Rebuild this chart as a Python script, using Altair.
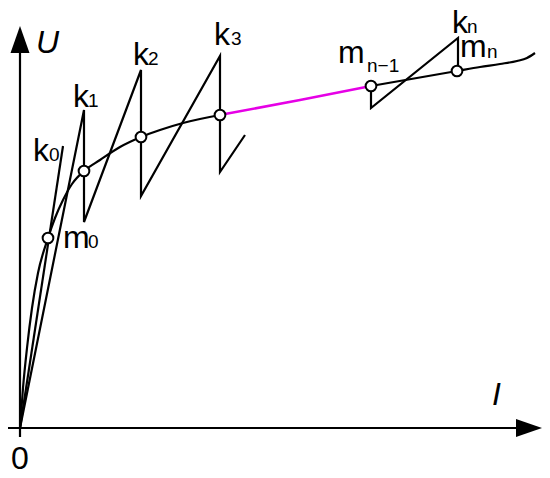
import altair as alt
import pandas as pd

# Coordinates in diagram units: I = horizontal (current), U = vertical (voltage)
# Main characteristic curve (black part up to m3)
curve1_I = [0, 3, 7, 12, 18, 28, 35, 43, 52, 64, 80, 100, 121, 140, 163, 200]
curve1_U = [0, 40, 80, 120, 155, 190, 210, 228, 244, 257, 268, 281, 291, 298, 305, 313]
# Highlighted (magenta) segment m3 -> m(n-1)
curve2_I = [200, 280, 351]
curve2_U = [313, 328, 342]
# Tail of the curve m(n-1) -> end
curve3_I = [351, 437, 460, 480, 497, 507, 515]
curve3_U = [342, 357, 361, 364, 367, 370, 375]

# k0 secant line
k0_I = [0, 43]
k0_U = [0, 282]
# Saw-tooth iteration path k1..k3
saw_I = [0, 64, 64, 121, 121, 200, 200, 225]
saw_U = [0, 318, 206, 358, 232, 372, 256, 293]
# Last iteration m(n-1) -> kn -> mn
last_I = [351, 351, 438, 438]
last_U = [342, 320, 390, 357]

# Operating points m0, m1, m2, m3, m(n-1), mn
pts_I = [28, 64, 121, 200, 351, 437]
pts_U = [190, 257, 291, 313, 342, 357]

# Axes
xaxis_I = [-17, 496]
xaxis_U = [0, 0]
yaxis_I = [0, 0]
yaxis_U = [-9, 375]

# Labels
main_text = ["k", "k", "k", "k", "k", "m", "m", "m", "0"]
main_I = [13, 53, 113, 194, 432, 43, 318, 440, -9]
main_U = [267, 321, 363, 383, 395, 180, 365, 371, -41]
sub_text = ["0", "1", "2", "3", "n", "0", "n\u22121", "n"]
sub_I = [29, 68, 128, 211, 447, 68, 347, 467]
sub_U = [267, 321, 363, 383, 395, 180, 356, 370]
ital_text = ["U", "I"]
ital_I = [16, 472]
ital_U = [375, 23]

xs = alt.Scale(domain=[-12, 522], nice=False, zero=False)
ys = alt.Scale(domain=[-42, 420], nice=False, zero=False)
X = lambda f="I": alt.X(f, type="quantitative", scale=xs, axis=None)
Y = lambda f="U": alt.Y(f, type="quantitative", scale=ys, axis=None)


def path_df(I, U, grp):
    return pd.DataFrame({"I": I, "U": U, "o": list(range(len(I))), "g": grp})


def line_layer(df, color="black", width=2.2, interp="linear"):
    return alt.Chart(df).mark_line(color=color, strokeWidth=width, interpolate=interp,
                                   strokeJoin="miter", strokeCap="butt").encode(
        x=X(), y=Y(), order="o:Q", detail="g:N")


axes_df = pd.concat([path_df(xaxis_I, xaxis_U, "x"), path_df(yaxis_I, yaxis_U, "y")])
lines_df = pd.concat([path_df(k0_I, k0_U, "k0"), path_df(saw_I, saw_U, "saw"),
                      path_df(last_I, last_U, "last")])

axes = line_layer(axes_df)
lines = line_layer(lines_df)
c1 = line_layer(path_df(curve1_I, curve1_U, "c1"), interp="monotone")
c2 = line_layer(path_df(curve2_I, curve2_U, "c2"), color="#e600e6", width=2.5,
                interp="monotone")
c3 = line_layer(path_df(curve3_I, curve3_U, "c3"), interp="monotone")

# arrowheads
yarrow = pd.DataFrame({"U": [375, 402], "a": [-9.5, 0], "b": [9.5, 0]})
xarrow = pd.DataFrame({"I": [496, 522], "a": [-9, 0], "b": [9, 0]})
ya = alt.Chart(yarrow).mark_area(orient="horizontal", color="black").encode(
    y=Y("U"), x=X("a"), x2="b")
xa = alt.Chart(xarrow).mark_area(orient="vertical", color="black").encode(
    x=X("I"), y=Y("a"), y2="b")

pts = alt.Chart(pd.DataFrame({"I": pts_I, "U": pts_U})).mark_point(
    shape="circle", filled=True, fill="white", stroke="black", strokeWidth=2,
    size=115, opacity=1).encode(x=X(), y=Y())

font = "Liberation Sans"
main = alt.Chart(pd.DataFrame({"I": main_I, "U": main_U, "t": main_text})).mark_text(
    align="left", baseline="alphabetic", font=font, fontSize=32, color="black").encode(
    x=X(), y=Y(), text="t:N")
sub = alt.Chart(pd.DataFrame({"I": sub_I, "U": sub_U, "t": sub_text})).mark_text(
    align="left", baseline="alphabetic", font=font, fontSize=19, color="black").encode(
    x=X(), y=Y(), text="t:N")
ital = alt.Chart(pd.DataFrame({"I": ital_I, "U": ital_U, "t": ital_text})).mark_text(
    align="left", baseline="alphabetic", font=font, fontSize=32, fontStyle="italic",
    color="black").encode(x=X(), y=Y(), text="t:N")

chart = alt.layer(axes, ya, xa, lines, c1, c2, c3, pts, main, sub, ital).properties(
    width=534, height=462, padding=0, background="white",
    autosize=alt.AutoSizeParams(type="none")
).configure_view(stroke=None)

chart.save("out.html", embed_options={"renderer": "svg", "actions": False})
